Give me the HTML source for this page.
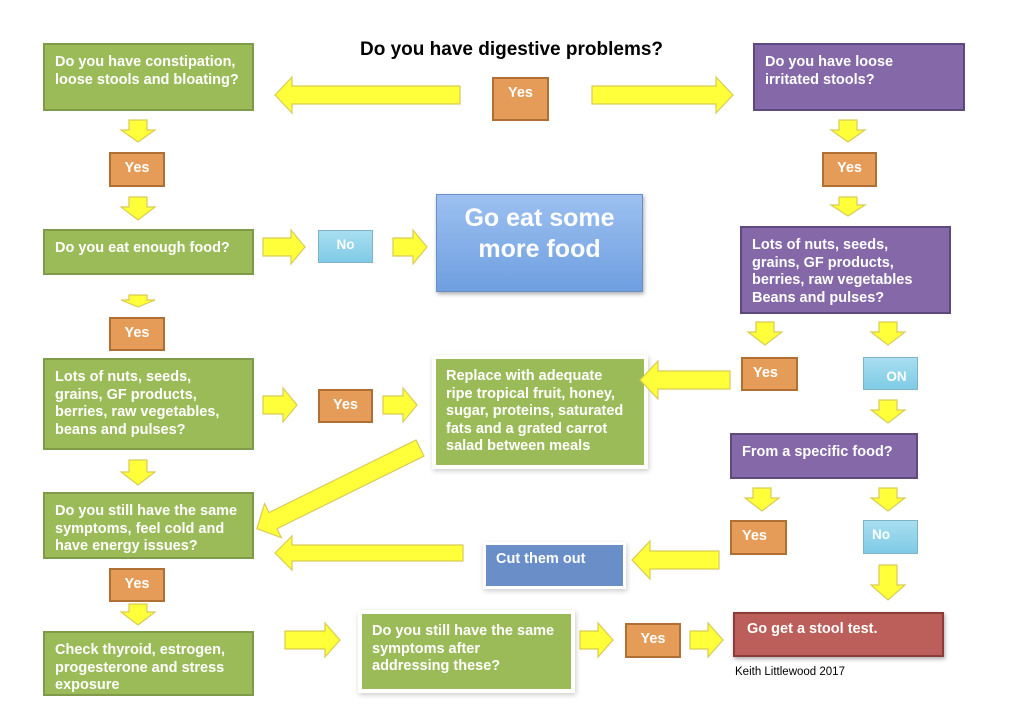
<!DOCTYPE html>
<html><head><meta charset="utf-8"><style>
body{margin:0;width:1024px;height:723px;background:#fff;position:relative;overflow:hidden;font-family:"Liberation Sans",sans-serif}
.b{position:absolute;box-sizing:border-box;color:#fff;font-weight:bold;font-size:14.5px;line-height:17.5px;padding:9px 10px;white-space:nowrap}
.g{background:#9bbb59;border:2px solid #7f9a48}
.p{background:#8468a8;border:2px solid #5f4a80}
.o{background:#e59c58;border:2px solid #b06f33;font-size:14.5px;padding:6px 0 0 0;text-align:center}
.c{background:linear-gradient(#a8def0,#7fcbe6);border:1px solid #7fb2c4;font-size:13.5px;padding:5px 0 0 0;text-align:center}
.sh{box-shadow:0 0 0 4px #fff,1px 2px 5px 4px #ccc}
svg{position:absolute;left:0;top:0}
polygon{fill:#ffff3a;stroke:#d8cc55;stroke-width:1.2}
</style></head><body>
<div style="position:absolute;left:360px;top:39px;font-weight:bold;font-size:19px">Do you have digestive problems?</div>

<div class="b g" style="left:43px;top:43px;width:211px;height:68px">Do you have constipation,<br>loose stools and bloating?</div>
<div class="b o" style="left:492px;top:77px;width:57px;height:44px">Yes</div>
<div class="b p" style="left:753px;top:43px;width:212px;height:68px">Do you have loose<br>irritated stools?</div>

<div class="b o" style="left:109px;top:152px;width:56px;height:35px">Yes</div>
<div class="b g" style="left:43px;top:229px;width:211px;height:46px">Do you eat enough food?</div>
<div class="b c" style="left:318px;top:230px;width:55px;height:33px">No</div>
<div class="b" style="left:436px;top:194px;width:207px;height:98px;background:linear-gradient(#9cc0f0,#6f9fe0);border:1px solid #6a8fc4;font-size:25px;line-height:31px;text-align:center;padding:8px 0;box-shadow:1px 2px 4px #aaa">Go eat some<br>more food</div>

<div class="b o" style="left:109px;top:317px;width:56px;height:34px">Yes</div>
<div class="b g" style="left:43px;top:358px;width:211px;height:92px">Lots of nuts, seeds,<br>grains, GF products,<br>berries, raw vegetables,<br>beans and pulses?</div>
<div class="b o" style="left:318px;top:389px;width:55px;height:34px">Yes</div>
<div class="b g sh" style="left:436px;top:359px;width:208px;height:106px;border:none">Replace with adequate<br>ripe tropical fruit, honey,<br>sugar, proteins, saturated<br>fats and a grated carrot<br>salad between meals</div>

<div class="b o" style="left:822px;top:152px;width:55px;height:35px">Yes</div>
<div class="b p" style="left:740px;top:226px;width:211px;height:88px">Lots of nuts, seeds,<br>grains, GF products,<br>berries, raw vegetables<br>Beans and pulses?</div>
<div class="b o" style="left:741px;top:357px;width:57px;height:34px;text-align:left;padding-left:10px">Yes</div>
<div class="b c" style="left:863px;top:357px;width:55px;height:33px;padding-top:10px;padding-left:12px">ON</div>
<div class="b p" style="left:730px;top:433px;width:188px;height:46px">From a specific food?</div>
<div class="b o" style="left:730px;top:520px;width:57px;height:35px;text-align:left;padding-left:10px">Yes</div>
<div class="b c" style="left:863px;top:520px;width:55px;height:34px;text-align:left;padding-left:8px">No</div>

<div class="b g" style="left:43px;top:492px;width:211px;height:67px">Do you still have the same<br>symptoms, feel cold and<br>have energy issues?</div>
<div class="b" style="left:486px;top:545px;width:137px;height:41px;background:#6a8fc8;box-shadow:0 0 0 3px #fff,1px 2px 5px 3px #ccc;padding-top:6px">Cut them out</div>
<div class="b o" style="left:109px;top:568px;width:56px;height:34px">Yes</div>
<div class="b g" style="left:43px;top:631px;width:211px;height:65px">Check thyroid, estrogen,<br>progesterone and stress<br>exposure</div>
<div class="b g sh" style="left:362px;top:614px;width:209px;height:75px;border:none">Do you still have the same<br>symptoms after<br>addressing these?</div>
<div class="b o" style="left:625px;top:623px;width:56px;height:35px">Yes</div>
<div class="b" style="left:733px;top:612px;width:211px;height:45px;background:#bc5e5a;border:2px solid #8c3c38;font-size:14.5px;padding-top:7px;padding-left:12px;box-shadow:1px 2px 4px #aaa">Go get a stool test.</div>
<div style="position:absolute;left:735px;top:666px;font-size:11.5px">Keith Littlewood 2017</div>

<svg width="1024" height="723">
<polygon points="460,86 292,86 292,77 275,95 292,113 292,104 460,104"/>
<polygon points="592,86 716,86 716,77 733,95 716,113 716,104 592,104"/>
<polygon points="129,120 147,120 147,130 155,130 138,142 121,130 129,130"/>
<polygon points="129,197 147,197 147,207 155,207 138,220 121,207 129,207"/>
<polygon points="263,238 291,238 291,230 305,247 291,264 291,256 263,256"/>
<polygon points="393,238 413,238 413,230 427,247 413,264 413,256 393,256"/>
<polygon points="129,295 147,295 147,300 155,300 138,307 121,300 129,300"/>
<polygon points="263,396 283,396 283,388 297,405 283,422 283,414 263,414"/>
<polygon points="383,396 403,396 403,388 417,405 403,422 403,414 383,414"/>
<polygon points="129,460 147,460 147,472 155,472 138,485 121,472 129,472"/>
<polygon transform="translate(420,448) rotate(153.7)" points="0,-9 164,-9 164,-19 182,0 164,19 164,9 0,9"/>
<polygon points="129,604 147,604 147,612 155,612 138,625 121,612 129,612"/>
<polygon points="285,631 325,631 325,623 340,640 325,657 325,649 285,649"/>
<polygon points="580,631 598,631 598,623 613,640 598,657 598,649 580,649"/>
<polygon points="690,631 708,631 708,623 723,640 708,657 708,649 690,649"/>
<polygon points="463,545 292,545 292,536 275,553 292,570 292,561 463,561"/>
<polygon points="839,120 857,120 857,130 865,130 848,142 831,130 839,130"/>
<polygon points="839,197 857,197 857,205 865,205 848,216 831,205 839,205"/>
<polygon points="756,322 774,322 774,332 782,332 765,345 748,332 756,332"/>
<polygon points="879,322 897,322 897,332 905,332 888,345 871,332 879,332"/>
<polygon points="879,400 897,400 897,410 905,410 888,423 871,410 879,410"/>
<polygon points="753,488 771,488 771,498 779,498 762,511 745,498 753,498"/>
<polygon points="879,488 897,488 897,498 905,498 888,511 871,498 879,498"/>
<polygon points="879,565 897,565 897,585 905,585 888,600 871,585 879,585"/>
<polygon points="730,371 658,371 658,361 640,380 658,399 658,389 730,389"/>
<polygon points="719,551 650,551 650,541 632,560 650,579 650,569 719,569"/>
</svg>
</body></html>
